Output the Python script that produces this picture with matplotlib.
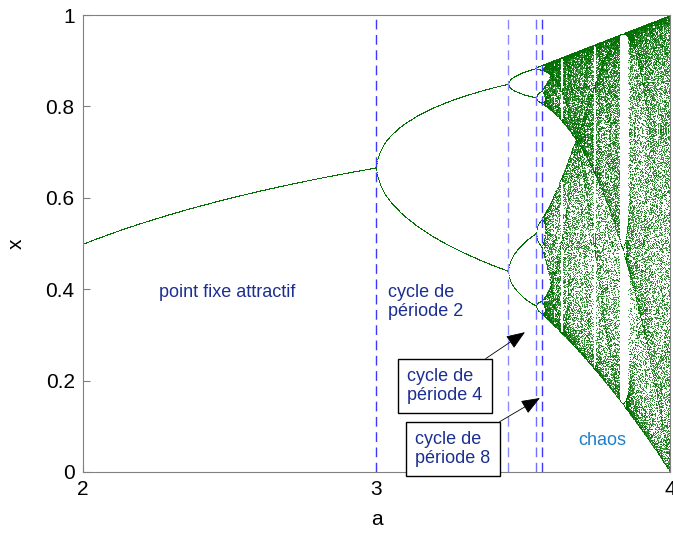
import numpy as np
import matplotlib
matplotlib.use("Agg")
import matplotlib.pyplot as plt

plt.rcParams["font.family"] = ["Liberation Sans", "DejaVu Sans"]

# logistic map x -> a x (1 - x), bifurcation diagram
a_range = [2.0, 4.0]
n_a = 1800
n_transient = 800
n_keep = 110
x0 = 0.3

# period-doubling thresholds marked on the plot
bif_points = [3.0, 3.449, 3.544, 3.564]
bif_colors = ["#3a3aff", "#8a8aff", "#7070ff", "#3a3aff"]

x_ticks = [2, 3, 4]
y_ticks = [0, 0.2, 0.4, 0.6, 0.8, 1]

a = np.linspace(a_range[0], a_range[1], n_a)
x = np.full_like(a, x0)
for _ in range(n_transient):
    x = a * x * (1 - x)
aa, xx = [], []
for _ in range(n_keep):
    x = a * x * (1 - x)
    aa.append(a.copy())
    xx.append(x.copy())
aa = np.concatenate(aa)
xx = np.concatenate(xx)

fig = plt.figure(figsize=(6.73, 5.38), dpi=100)
ax = fig.add_axes([0.1233, 0.1227, 0.8722, 0.8493])

ax.scatter(aa, xx, s=1.4, c="#007000", marker=".", linewidths=0, alpha=0.9)

for b, c in zip(bif_points, bif_colors):
    ax.axvline(b, color=c, linestyle=(0, (7, 4)), linewidth=1.0)

ax.set_xlim(a_range)
ax.set_ylim(0, 1)
ax.set_xticks(x_ticks)
ax.set_yticks(y_ticks)
ax.set_yticklabels(["0", "0.2", "0.4", "0.6", "0.8", "1"])
ax.tick_params(labelsize=15, direction="in", length=5, color="#808080", pad=6)
for s in ax.spines.values():
    s.set_color("#808080")
ax.set_xlabel("a", fontsize=15, labelpad=8)
ax.set_ylabel("x", fontsize=15, labelpad=14)

txt_col = "#1c2f91"
fs = 13
ax.text(2.49, 0.392, "point fixe attractif", color=txt_col, fontsize=fs,
        ha="center", va="center")
ax.text(3.04, 0.372, "cycle de\npériode 2", color=txt_col, fontsize=fs,
        ha="left", va="center", linespacing=1.15)
ax.text(3.768, 0.068, "chaos", color="#1f7fc8", fontsize=fs,
        ha="center", va="center")

box = dict(boxstyle="square,pad=0.5", fc="white", ec="black", lw=1)
arrow = dict(arrowstyle="-|>,head_length=0.9,head_width=0.35", color="black",
             lw=0.6, shrinkA=0, shrinkB=0)
ax.annotate("cycle de\npériode 4", xy=(3.506, 0.306), xytext=(3.233, 0.188),
            color=txt_col, fontsize=fs, ha="center", va="center",
            multialignment="left", linespacing=1.15, bbox=box,
            arrowprops=arrow)
ax.annotate("cycle de\npériode 8", xy=(3.557, 0.162), xytext=(3.261, 0.05),
            color=txt_col, fontsize=fs, ha="center", va="center",
            multialignment="left", linespacing=1.15, bbox=box,
            arrowprops=arrow)

fig.savefig("out.png", dpi=100)
